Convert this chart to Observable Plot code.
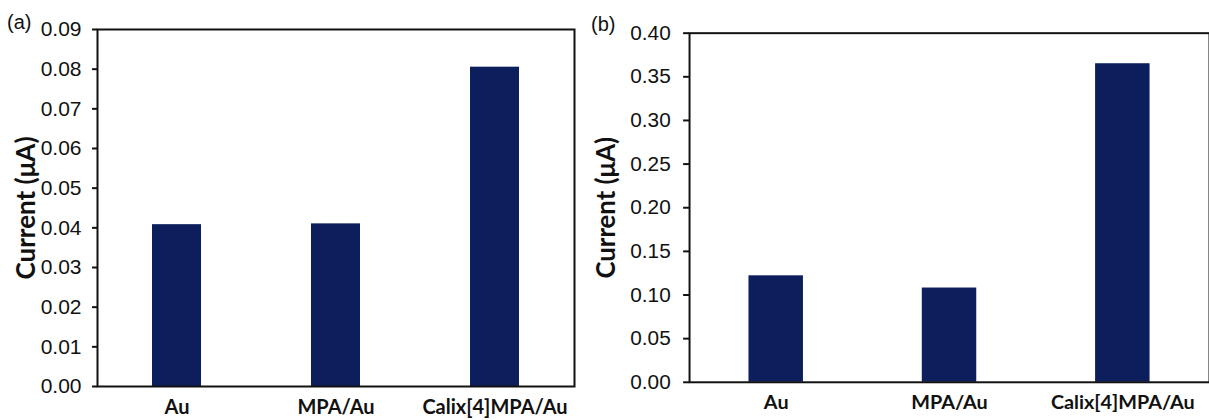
<!DOCTYPE html>
<html>
<head>
<meta charset="utf-8">
<script src="https://cdn.jsdelivr.net/npm/d3@7"></script>
<script src="https://cdn.jsdelivr.net/npm/@observablehq/plot@0.6"></script>
<style>
  html, body { margin: 0; padding: 0; background: #fff; overflow: hidden; }
  #wrap { position: relative; width: 1209px; height: 420px; overflow: hidden; }
  .panel { position: absolute; top: 0; }
  .tag { position: absolute; font-family: "Liberation Sans", Arial, sans-serif; font-size: 20px; color: #111; }
</style>
</head>
<body>
<div id="wrap">
  <div class="panel" id="pa" style="left:0px"></div>
  <div class="panel" id="pb" style="left:590px"></div>
  <span class="tag" style="left:7px; top:11px">(a)</span>
  <span class="tag" style="left:591px; top:13px">(b)</span>
</div>
<script>
const categories = ["Au", "MPA/Au", "Calix[4]MPA/Au"];
const valuesA = [0.0408, 0.0410, 0.0805];
const valuesB = [0.122, 0.108, 0.365];
const ticksA = [0, 0.01, 0.02, 0.03, 0.04, 0.05, 0.06, 0.07, 0.08, 0.09];
const ticksB = [0, 0.05, 0.10, 0.15, 0.20, 0.25, 0.30, 0.35, 0.40];
const yLabel = "Current (μA)";

const barColor = "#0c1f5c";
const tickFont = "'Liberation Sans', Arial, sans-serif";
const catFont = "Lato, 'Open Sans', sans-serif";

function panel(values, ticks, opts) {
  const data = categories.map((c, i) => ({cat: c, v: values[i]}));
  return Plot.plot({
    width: opts.width,
    height: 420,
    marginLeft: opts.ml,
    marginRight: opts.mr,
    marginTop: opts.mt,
    marginBottom: opts.mb,
    style: {background: "transparent", color: "#111"},
    x: {domain: categories, padding: 0},
    y: {domain: [0, ticks[ticks.length - 1]]},
    marks: [
      Plot.barY(data, {x: "cat", y: "v", fill: barColor, insetLeft: opts.inset, insetRight: opts.inset}),
      Plot.frame({stroke: "#111", strokeWidth: 2}),
      Plot.axisY({ticks: ticks, tickFormat: d3.format(".2f"), tickSize: opts.ts, tickPadding: opts.tp,
        strokeWidth: 2, fontSize: 21, fontFamily: tickFont, label: null}),
      Plot.axisX({tickSize: 0, tickPadding: 13, fontSize: 20, fontWeight: "bold", fontFamily: catFont, label: null}),
      Plot.text([yLabel], {frameAnchor: "left", dx: -opts.lo, rotate: -90, textAnchor: "middle", lineAnchor: "middle",
        fontSize: 26, fontWeight: "bold", fontFamily: catFont, fill: "#111"})
    ]
  });
}

document.getElementById("pa").appendChild(
  panel(valuesA, ticksA, {width: 590, ml: 97, mr: 16, mt: 29, mb: 34, inset: 55, ts: 5, tp: 11, lo: 71}));
document.getElementById("pb").appendChild(
  panel(valuesB, ticksB, {width: 625, ml: 100, mr: 0, mt: 33, mb: 34.5, inset: 60, ts: 6, tp: 13, lo: 84}));
</script>
</body>
</html>
